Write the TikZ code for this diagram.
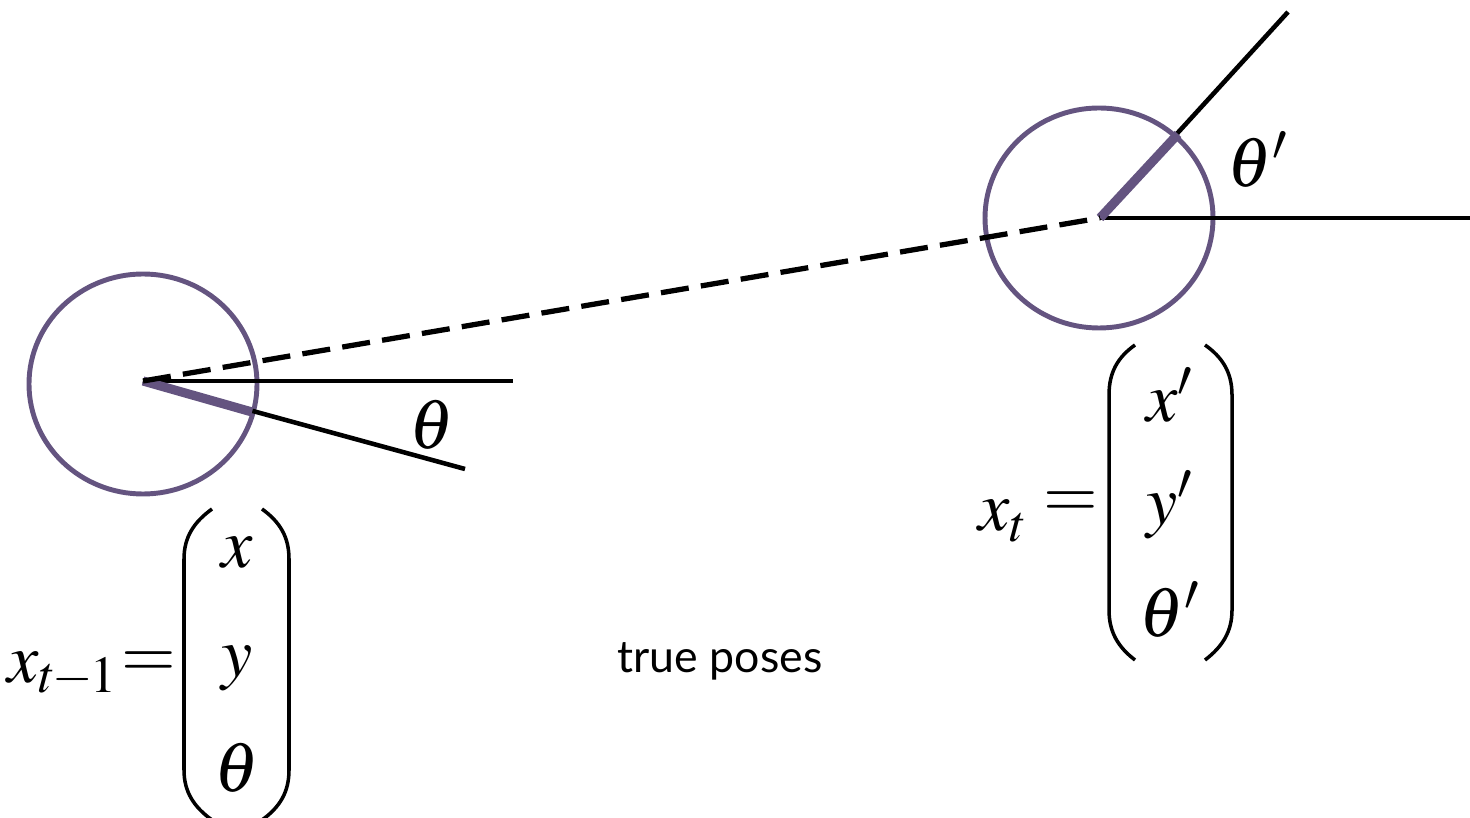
\documentclass[tikz,border=0pt]{standalone}
\usepackage{amsmath}
\usepackage{mathptmx}
\usepackage{fontspec}
\newfontfamily\posefont{Lato}
\usepackage{tikz}
\usetikzlibrary{calc}
\definecolor{posepurple}{RGB}{100,84,128}

\begin{document}
\begin{tikzpicture}[
    robot/.style={draw=posepurple, line width=1.4pt},
    heading/.style={draw=posepurple, line width=2.6pt},
    ray/.style={draw=black, line width=1.3pt},
    motion/.style={draw=black, line width=1.5pt, dash pattern=on 8pt off 3.5pt},
    paren/.style={draw=black, line width=1pt},
    pose/.style={font=\fontsize{20}{24}\selectfont, inner sep=0pt}
]
    \useasboundingbox (0,0) rectangle (14.7,8.17);

    \coordinate (P) at (1.43, 4.36);
    \coordinate (Q) at (11.0, 5.99);
    \coordinate (PH) at (5.13, 4.36);
    \coordinate (PR) at (4.65, 3.48);
    \coordinate (PS) at (2.52, 4.05);
    \coordinate (QH) at (14.7, 5.99);
    \coordinate (QR) at (12.88, 8.05);
    \coordinate (QS) at (11.78, 6.83);

    \draw[robot] (1.43, 4.33) ellipse (1.14 and 1.10);
    \draw[robot] (10.99, 5.99) ellipse (1.14 and 1.10);

    \draw[ray] (P) -- (PH);
    \draw[ray] (P) -- (PR);
    \draw[ray] (Q) -- (QH);
    \draw[ray] (Q) -- (QR);
    \draw[heading] (P) -- (PS);
    \draw[heading] (Q) -- (QS);

    \draw[motion] (P) -- (Q);

    \node[pose] (thetaP) at (4.32, 3.92) {$\theta$};
    \node[pose] (thetaQ) at (12.58, 6.57) {$\theta'$};

    % old pose
    \node[pose, anchor=base west] (xP) at (0.07, 1.35)
        {$x_{t\mkern-1mu-\mkern-1mu1}$};
    \node[pose] (eqP) at (1.49, 1.52) {$=$};
    \node[pose] (xP1) at (2.37, 2.64) {$x$};
    \node[pose] (xP2) at (2.37, 1.49) {$y$};
    \node[pose] (xP3) at (2.37, 0.49) {$\theta$};
    \draw[paren] (2.12, 3.08) .. controls (1.94, 2.95) and (1.84, 2.80) .. (1.84, 2.58)
        -- (1.84, 0.47) .. controls (1.84, 0.25) and (1.94, 0.10) .. (2.12, -0.03);
    \draw[paren] (2.62, 3.08) .. controls (2.80, 2.95) and (2.89, 2.80) .. (2.89, 2.58)
        -- (2.89, 0.47) .. controls (2.89, 0.25) and (2.80, 0.10) .. (2.62, -0.03);

    % new pose
    \node[pose, anchor=base west] (xQ) at (9.78, 2.86) {$x_{t}$};
    \node[pose] (eqQ) at (10.71, 3.12) {$=$};
    \node[pose] (xQ1) at (11.70, 4.22) {$x'$};
    \node[pose] (xQ2) at (11.70, 3.12) {$y'$};
    \node[pose] (xQ3) at (11.70, 2.07) {$\theta'$};
    \draw[paren] (11.35, 4.72) .. controls (11.18, 4.60) and (11.09, 4.45) .. (11.09, 4.22)
        -- (11.09, 2.07) .. controls (11.09, 1.85) and (11.18, 1.70) .. (11.35, 1.57);
    \draw[paren] (12.05, 4.72) .. controls (12.22, 4.60) and (12.32, 4.45) .. (12.32, 4.22)
        -- (12.32, 2.07) .. controls (12.32, 1.85) and (12.22, 1.70) .. (12.05, 1.57);

    \node[font=\posefont\fontsize{12.7}{15}\selectfont] (label) at (7.20, 1.56) {true poses};
\end{tikzpicture}
\end{document}
